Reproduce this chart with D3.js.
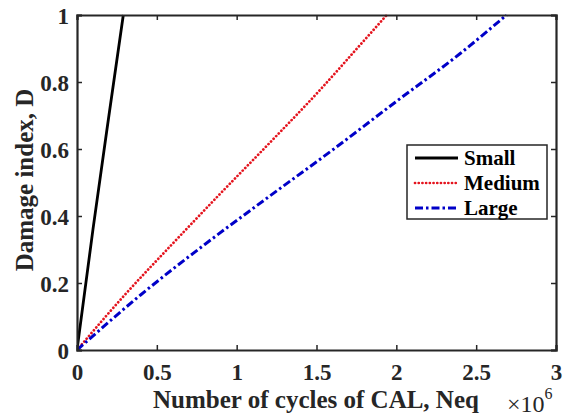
<!DOCTYPE html>
<html>
<head>
<meta charset="utf-8">
<script src="https://cdn.jsdelivr.net/npm/d3@7"></script>
<style>
  body { margin: 0; background: #fff; }
  svg { font-family: "Liberation Serif", "Times New Roman", serif; }
</style>
</head>
<body>
<div id="chart"></div>
<script>
// cycles in units of 1e6
var smallN = [0, 0.1, 0.2, 0.29];
var smallD = [0, 0.36, 0.70, 1.0];
var mediumN = [0, 0.3, 0.6, 0.9, 1.2, 1.5, 1.8, 1.94];
var mediumD = [0, 0.165, 0.318, 0.468, 0.615, 0.765, 0.925, 1.0];
var largeN = [0, 0.4, 0.8, 1.2, 1.6, 2.0, 2.4, 2.69];
var largeD = [0, 0.165, 0.315, 0.457, 0.597, 0.742, 0.885, 1.0];
var seriesNames = ['Small', 'Medium', 'Large'];
var xTicks = [0, 0.5, 1, 1.5, 2, 2.5, 3];
var yTicks = [0, 0.2, 0.4, 0.6, 0.8, 1];

var w = 570, h = 416;
var padLeft = 77, padRight = 556, padTop = 15, padBottom = 350;

var svg = d3.select('#chart').append('svg')
	.attr('width', w)
	.attr('height', h);

var x = d3.scaleLinear().domain([0, 3]).range([padLeft, padRight]);
var y = d3.scaleLinear().domain([0, 1]).range([padBottom, padTop]);

var styles = [
	{color: '#000000', width: 2.8, dash: null, cap: 'butt'},
	{color: '#e4141e', width: 2.7, dash: '0.1,3.6', cap: 'round'},
	{color: '#0000c8', width: 3, dash: '8,3,2.5,3', cap: 'butt'}
];

var series = [
	d3.zip(smallN, smallD),
	d3.zip(mediumN, mediumD),
	d3.zip(largeN, largeD)
];

var line = d3.line()
	.curve(d3.curveMonotoneX)
	.x(function(d) { return x(d[0]); })
	.y(function(d) { return y(d[1]); });

svg.append('clipPath').attr('id', 'plot-clip')
	.append('rect')
	.attr('x', padLeft).attr('y', padTop - 1)
	.attr('width', padRight - padLeft).attr('height', padBottom - padTop + 1);

var plot = svg.append('g').attr('clip-path', 'url(#plot-clip)');

series.forEach(function(s, i) {
	plot.append('path')
		.datum(s)
		.attr('d', line)
		.attr('fill', 'none')
		.attr('stroke', styles[i].color)
		.attr('stroke-width', styles[i].width)
		.attr('stroke-linecap', styles[i].cap)
		.attr('stroke-dasharray', styles[i].dash);
});

// axes (MATLAB style box with inward ticks)
var axisColor = '#262626';

var xAxis = svg.append('g')
	.attr('transform', 'translate(0,' + padBottom + ')')
	.call(d3.axisBottom(x).tickValues(xTicks).tickSize(-5).tickPadding(13)
		.tickFormat(d3.format('')));
var xTop = svg.append('g')
	.attr('transform', 'translate(0,' + padTop + ')')
	.call(d3.axisTop(x).tickValues(xTicks).tickSize(-5).tickFormat(''));
var yAxis = svg.append('g')
	.attr('transform', 'translate(' + padLeft + ',0)')
	.call(d3.axisLeft(y).tickValues(yTicks).tickSize(-5).tickPadding(8)
		.tickFormat(d3.format('')));
var yRight = svg.append('g')
	.attr('transform', 'translate(' + padRight + ',0)')
	.call(d3.axisRight(y).tickValues(yTicks).tickSize(-5).tickFormat(''));

[xAxis, xTop, yAxis, yRight].forEach(function(a) {
	a.select('.domain').attr('stroke', axisColor).attr('stroke-width', 2.2);
	a.selectAll('.tick line').attr('stroke', axisColor).attr('stroke-width', 1.5);
	a.selectAll('.tick text')
		.attr('fill', '#262626')
		.style('font-family', '"Liberation Serif", serif')
		.style('font-weight', 'bold')
		.style('font-size', '23px');
});
xAxis.selectAll('.tick text').attr('dy', '0.72em');
yAxis.selectAll('.tick text').attr('dy', '0.35em');

// axis labels
svg.append('text')
	.attr('x', 316)
	.attr('y', 408)
	.attr('text-anchor', 'middle')
	.attr('font-weight', 'bold')
	.attr('font-size', '25px')
	.attr('fill', '#262626')
	.text('Number of cycles of CAL, Neq');

svg.append('text')
	.attr('transform', 'translate(33,180) rotate(-90)')
	.attr('text-anchor', 'middle')
	.attr('font-weight', 'bold')
	.attr('font-size', '25px')
	.attr('fill', '#262626')
	.text('Damage index, D');

var expo = svg.append('text')
	.attr('x', 507)
	.attr('y', 412)
	.attr('font-size', '24px')
	.attr('fill', '#262626');
expo.append('tspan').text('\u00d710');
expo.append('tspan')
	.attr('font-size', '16px')
	.attr('dy', -13)
	.text('6');

// legend
var legend = svg.append('g');
legend.append('rect')
	.attr('x', 407).attr('y', 145)
	.attr('width', 140).attr('height', 74)
	.attr('fill', '#fff')
	.attr('stroke', axisColor)
	.attr('stroke-width', 1.5);

seriesNames.forEach(function(name, i) {
	var ly = 158 + i * 25;
	legend.append('line')
		.attr('x1', 415).attr('x2', 458)
		.attr('y1', ly).attr('y2', ly)
		.attr('stroke', styles[i].color)
		.attr('stroke-width', styles[i].width)
		.attr('stroke-linecap', styles[i].cap)
		.attr('stroke-dasharray', styles[i].dash);
	legend.append('text')
		.attr('x', 464)
		.attr('y', ly)
		.attr('dy', '0.35em')
		.attr('font-weight', 'bold')
		.attr('font-size', '21px')
		.attr('fill', '#000')
		.text(name);
});
</script>
</body>
</html>
